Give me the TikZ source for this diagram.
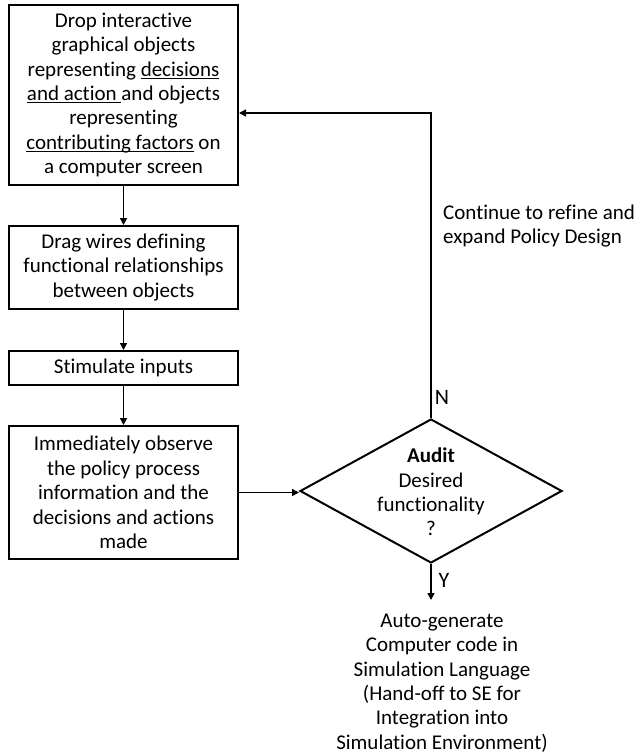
\documentclass[tikz,border=0pt]{standalone}
\usepackage{fontspec}
\setmainfont{Carlito}[Ligatures=NoCommon]
\usetikzlibrary{shapes.geometric,arrows.meta}
% underline drawn at a fixed depth below the baseline
\newcommand\undl[1]{\setbox0\hbox{#1}\rlap{\rule[-2.6pt]{\wd0}{0.9pt}}\box0\relax}
\begin{document}
\begin{tikzpicture}[x=1pt,y=-1pt,
  every node/.style={font=\fontsize{21}{24.4}\selectfont, inner sep=0pt},
  stepbox/.style={draw, line width=2pt, minimum width=229pt, align=center},
  link/.style={line width=1.6pt, -{Triangle[length=7pt,width=7pt]}},
  lbl/.style={align=center},
  yn/.style={font=\fontsize{22}{24}\selectfont}]
\useasboundingbox (0,0) rectangle (637,754);

% process steps
\node[stepbox, minimum height=180pt] (drop) at (123.5,95)
  {Drop interactive\\graphical objects\\representing \undl{decisions}\\\undl{and action }and objects\\representing\\\undl{contributing factors} on\\a computer screen};
\node[stepbox, minimum height=83pt] (drag) at (123.5,267.5)
  {Drag wires defining\\functional relationships\\between objects};
\node[stepbox, minimum height=34pt] (stim) at (123.5,368)
  {Stimulate inputs};
\node[stepbox, minimum height=133pt] (observe) at (123.5,492.5)
  {Immediately observe\\the policy process\\information and the\\decisions and actions\\made};

% decision
\node[diamond, draw, line width=2pt, minimum width=262pt, minimum height=144pt] (audit) at (431,491) {};
\node[lbl] (audittext) at (431,492) {\textbf{Audit}\\Desired\\functionality\\?};
\node[yn] (nlabel) at (442,397) {N};
\node[yn] (ylabel) at (444,580) {Y};

% outcome and loop note
\node[lbl] (autogen) at (442,683)
  {Auto-generate\\Computer code in\\Simulation Language\\(Hand-off to SE for\\Integration into\\Simulation Environment)};
\node[align=left, anchor=west] (refine) at (443,226)
  {Continue to refine and\\expand Policy Design};

% connectors
\coordinate (turn) at (431,113);
\coordinate (yend) at (431,600);
\draw[link] (drop) -- (drag);
\draw[link] (drag) -- (stim);
\draw[link] (stim) -- (observe);
\draw[link] (observe.east) -- (observe.east -| audit.west);
\draw[link] (audit.north) -- (turn) -- (turn -| drop.east);
\draw[link] (audit.south) -- (yend);
\end{tikzpicture}
\end{document}
